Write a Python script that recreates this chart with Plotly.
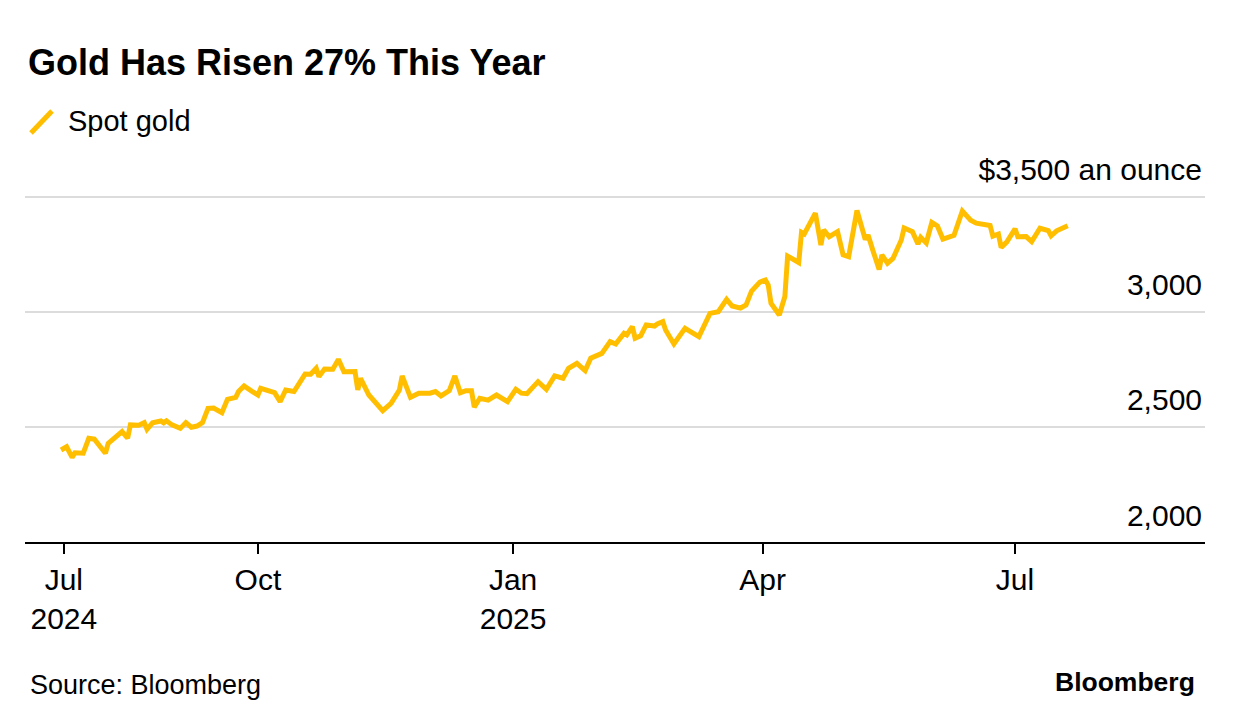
import plotly.graph_objects as go

dates = [
    "2024-07-22", "2024-07-24", "2024-07-26", "2024-07-27", "2024-07-30",
    "2024-08-01", "2024-08-03", "2024-08-05", "2024-08-07", "2024-08-08",
    "2024-08-10", "2024-08-13", "2024-08-15", "2024-08-16", "2024-08-19",
    "2024-08-21", "2024-08-22", "2024-08-24", "2024-08-27", "2024-08-28",
    "2024-08-29", "2024-08-31", "2024-09-03", "2024-09-05", "2024-09-07",
    "2024-09-09", "2024-09-11", "2024-09-13", "2024-09-15", "2024-09-18",
    "2024-09-20", "2024-09-23", "2024-09-24", "2024-09-26", "2024-09-29",
    "2024-10-01", "2024-10-02", "2024-10-04", "2024-10-07", "2024-10-09",
    "2024-10-11", "2024-10-14", "2024-10-16", "2024-10-18", "2024-10-20",
    "2024-10-22", "2024-10-23", "2024-10-25", "2024-10-28", "2024-10-30",
    "2024-11-01", "2024-11-05", "2024-11-06", "2024-11-07", "2024-11-10",
    "2024-11-15", "2024-11-18", "2024-11-21", "2024-11-22", "2024-11-25",
    "2024-11-28", "2024-12-02", "2024-12-04", "2024-12-06", "2024-12-09",
    "2024-12-11", "2024-12-13", "2024-12-15", "2024-12-17", "2024-12-18",
    "2024-12-20", "2024-12-23", "2024-12-26", "2024-12-30", "2025-01-02",
    "2025-01-04", "2025-01-06", "2025-01-10", "2025-01-13", "2025-01-16",
    "2025-01-19", "2025-01-21", "2025-01-24", "2025-01-27", "2025-01-29",
    "2025-02-02", "2025-02-05", "2025-02-07", "2025-02-10", "2025-02-11",
    "2025-02-13", "2025-02-14", "2025-02-16", "2025-02-18", "2025-02-21",
    "2025-02-22", "2025-02-24", "2025-02-25", "2025-02-28", "2025-03-04",
    "2025-03-09", "2025-03-13", "2025-03-16", "2025-03-19", "2025-03-21",
    "2025-03-24", "2025-03-26", "2025-03-28", "2025-03-31", "2025-04-02",
    "2025-04-03", "2025-04-04", "2025-04-07", "2025-04-09", "2025-04-10",
    "2025-04-14", "2025-04-15", "2025-04-16", "2025-04-20", "2025-04-22",
    "2025-04-23", "2025-04-25", "2025-04-28", "2025-04-30", "2025-05-02",
    "2025-05-03", "2025-05-05", "2025-05-08", "2025-05-09", "2025-05-11",
    "2025-05-13", "2025-05-14", "2025-05-16", "2025-05-18", "2025-05-21",
    "2025-05-22", "2025-05-25", "2025-05-27", "2025-05-28", "2025-05-30",
    "2025-06-01", "2025-06-03", "2025-06-05", "2025-06-09", "2025-06-12",
    "2025-06-15", "2025-06-17", "2025-06-22", "2025-06-23", "2025-06-25",
    "2025-06-26", "2025-06-28", "2025-07-01", "2025-07-02", "2025-07-05",
    "2025-07-07", "2025-07-10", "2025-07-13", "2025-07-14", "2025-07-16",
    "2025-07-20",
]

spot_gold = [
    2400, 2414, 2368, 2388, 2386,
    2451, 2447, 2417, 2386, 2429,
    2451, 2480, 2451, 2509, 2508,
    2519, 2490, 2518, 2526, 2518,
    2527, 2509, 2494, 2519, 2499,
    2504, 2519, 2581, 2582, 2562,
    2620, 2629, 2654, 2678, 2654,
    2639, 2668, 2661, 2649, 2610,
    2661, 2654, 2693, 2730, 2729,
    2755, 2719, 2752, 2751, 2794,
    2740, 2741, 2661, 2711, 2639,
    2571, 2603, 2661, 2722, 2629,
    2647, 2647, 2654, 2635, 2658,
    2722, 2649, 2658, 2658, 2586,
    2625, 2617, 2639, 2610, 2664,
    2647, 2645, 2697, 2664, 2722,
    2712, 2755, 2777, 2745, 2799,
    2820, 2871, 2861, 2907, 2900,
    2936, 2886, 2896, 2944, 2939,
    2948, 2958, 2922, 2861, 2929,
    2893, 2994, 3001, 3055, 3026,
    3017, 3030, 3091, 3130, 3139,
    3117, 3038, 2987, 3067, 3243,
    3215, 3346, 3339, 3430, 3291,
    3357, 3327, 3349, 3248, 3240,
    3313, 3441, 3315, 3335, 3258,
    3185, 3248, 3212, 3233, 3313,
    3365, 3349, 3296, 3324, 3300,
    3389, 3374, 3317, 3333, 3439,
    3399, 3386, 3376, 3330, 3339,
    3280, 3304, 3361, 3327, 3328,
    3306, 3364, 3354, 3331, 3353,
    3375,
]

x_tick_vals = ["2024-07-23", "2024-10-01", "2025-01-01", "2025-04-01", "2025-07-01"]
x_tick_text = ["Jul<br>2024", "Oct", "Jan<br>2025", "Apr", "Jul"]
y_tick_vals = [2000, 2500, 3000, 3500]
y_tick_text = ["2,000", "2,500", "3,000", "$3,500 an ounce"]

GOLD = "#FFBF00"
FONT = "Liberation Sans, Arial, sans-serif"

# page has an 8px body margin, so the figure is sized to fit inside it
OFF = 8
W, H = 1236 - OFF, 726 - OFF
ML, MR, MT, MB = 25 - OFF, 31, 185 - OFF, 184


def px_x(p):
    return (p - OFF - ML) / (W - ML - MR)


def px_y(p):
    return (H - MB - (p - OFF)) / (H - MT - MB)


fig = go.Figure()
fig.add_trace(go.Scatter(
    x=dates, y=spot_gold, mode="lines", name="Spot gold",
    line=dict(color=GOLD, width=5), showlegend=False,
    hoverinfo="x+y",
))

fig.update_layout(
    width=W, height=H,
    margin=dict(l=ML, r=MR, t=MT, b=MB),
    paper_bgcolor="white", plot_bgcolor="white",
    font=dict(family=FONT, color="black", size=30),
    title=dict(
        text="<b>Gold Has Risen 27% This Year</b>",
        x=(28 - OFF) / W, xanchor="left", xref="container",
        y=1 - (62 - OFF) / H, yanchor="middle", yref="container",
        font=dict(family=FONT, size=36, color="black"),
    ),
    xaxis=dict(
        type="date",
        range=["2024-07-09", "2025-09-07 12:00"],
        tickvals=x_tick_vals, ticktext=x_tick_text,
        showgrid=False, zeroline=False,
        showline=True, linecolor="black", linewidth=2,
        ticks="outside", ticklen=10, tickwidth=1.5, tickcolor="black",
        tickfont=dict(family=FONT, size=30, color="black"),
        fixedrange=True,
    ),
    yaxis=dict(
        range=[2000, 3552],
        tickvals=y_tick_vals, ticktext=y_tick_text,
        side="right", ticklabelposition="inside top",
        ticklabeloverflow="allow", ticklabelshift=-6,
        showgrid=True, gridcolor="#dcdcdc", gridwidth=2,
        zeroline=False, showline=False, ticks="",
        tickfont=dict(family=FONT, size=30, color="black"),
        fixedrange=True,
    ),
    shapes=[
        dict(type="line", xref="paper", yref="paper",
             x0=px_x(31), y0=px_y(133), x1=px_x(52), y1=px_y(111),
             line=dict(color=GOLD, width=5)),
    ],
    annotations=[
        dict(text="Spot gold", xref="paper", yref="paper",
             x=px_x(66), y=px_y(121), xanchor="left", yanchor="middle",
             showarrow=False, font=dict(family=FONT, size=29, color="black")),
        dict(text="Source: Bloomberg", xref="paper", yref="paper",
             x=px_x(28), y=px_y(685), xanchor="left", yanchor="middle",
             showarrow=False, font=dict(family=FONT, size=27, color="black")),
        dict(text="<b>Bloomberg</b>", xref="paper", yref="paper",
             x=px_x(1197), y=px_y(682), xanchor="right", yanchor="middle",
             showarrow=False, font=dict(family=FONT, size=26.5, color="black")),
    ],
)

fig.write_html("out.html")
